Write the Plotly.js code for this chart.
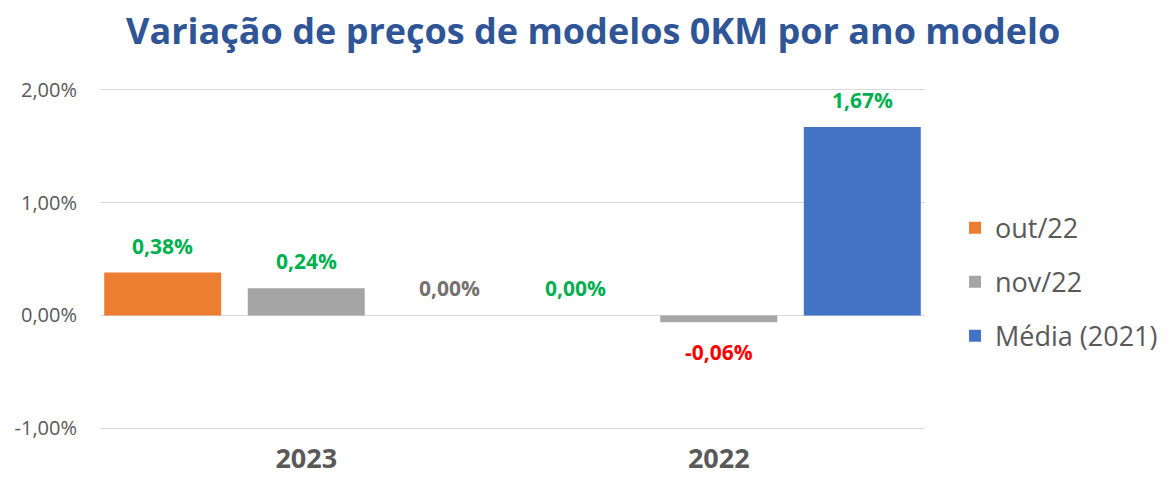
<!DOCTYPE html>
<html>
<head>
<meta charset="utf-8">
<script src="https://cdn.plot.ly/plotly-3.0.1.min.js"></script>
<style>html,body{margin:0;padding:0;background:#fff}#chart{width:1170px;height:482px}</style>
</head>
<body>
<div id="chart"></div>
<script>
// ---- data ----
var categories = ['2023', '2022'];
var seriesNames = ['out/22', 'nov/22', 'Média (2021)'];
var out22 = [0.38, 0.00];
var nov22 = [0.24, -0.06];
var media2021 = [0.00, 1.67];
var yTickValues = [-1, 0, 1, 2];

// ---- styles ----
var seriesColors = ['#ED7D31', '#A5A5A5', '#4472C4'];
var labelColors = [
  ['#00B050', '#00B050'],
  ['#00B050', '#FF0000'],
  ['#767171', '#00B050']
];
var FONT = '"Open Sans", "DejaVu Sans", sans-serif';

var seriesValues = [out22, nov22, media2021];
var barWidth = 0.2836;
var centerOffsets = [-0.348, 0, 0.348];

function fmt(v) {
  return v.toFixed(2).replace('.', ',') + '%';
}

var traces = seriesValues.map(function (vals, s) {
  return {
    type: 'bar',
    name: seriesNames[s],
    x: categories,
    y: vals,
    width: vals.map(function () { return barWidth; }),
    offset: vals.map(function () { return centerOffsets[s] - barWidth / 2; }),
    marker: {color: seriesColors[s]},
    legendgroup: 'g' + s,
    hoverinfo: 'skip'
  };
});

var annotations = [];
seriesValues.forEach(function (vals, s) {
  vals.forEach(function (v, i) {
    annotations.push({
      x: i + centerOffsets[s],
      y: v,
      xref: 'x', yref: 'y',
      text: fmt(v),
      showarrow: false,
      xanchor: 'center',
      yanchor: 'middle',
      yshift: v < 0 ? -30 : 27,
      font: {family: FONT, size: 21, color: labelColors[s][i], weight: 'bold'}
    });
  });
});

var layout = {
  width: 1170,
  height: 482,
  margin: {l: 100, r: 245, t: 88, b: 52, autoexpand: false},
  paper_bgcolor: '#ffffff',
  plot_bgcolor: '#ffffff',
  separators: ',.',
  barmode: 'overlay',
  title: {
    text: 'Variação de preços de modelos 0KM por ano modelo',
    font: {family: FONT, size: 36, color: '#2F5597', weight: 'bold'},
    x: 0.507, xanchor: 'center',
    y: 0.935, yanchor: 'middle', yref: 'container'
  },
  xaxis: {
    type: 'category',
    tickfont: {family: FONT, size: 27, color: '#595959', weight: 'bold'},
    showgrid: false,
    showline: false,
    ticks: '',
    ticklabelstandoff: 10
  },
  yaxis: {
    range: [-1.015, 2.015],
    tickvals: yTickValues,
    ticktext: yTickValues.map(fmt),
    tickfont: {family: FONT, size: 20, color: '#595959'},
    gridcolor: '#D9D9D9',
    gridwidth: 1.5,
    zeroline: true,
    zerolinecolor: '#D9D9D9',
    zerolinewidth: 1.5,
    showline: false,
    ticks: '',
    ticklabelstandoff: 22
  },
  showlegend: true,
  legend: {
    x: 1.0364, xanchor: 'left',
    y: 0.662, yanchor: 'top',
    traceorder: 'grouped',
    tracegroupgap: 16,
    font: {family: FONT, size: 27, color: '#595959'},
    bgcolor: 'rgba(0,0,0,0)'
  },
  annotations: annotations
};

Plotly.newPlot('chart', traces, layout, {displayModeBar: false, staticPlot: true});
</script>
</body>
</html>
